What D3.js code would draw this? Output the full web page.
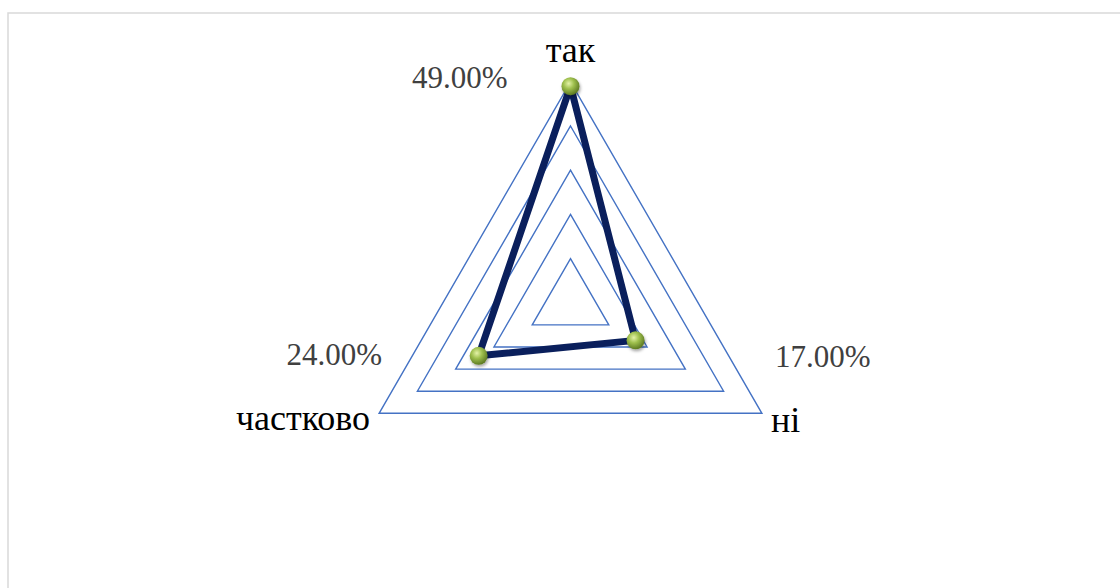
<!DOCTYPE html>
<html>
<head>
<meta charset="utf-8">
<title>radar chart</title>
<style>
  body { margin: 0; background: #fff; }
  svg { display: block; }
</style>
</head>
<body>
<svg width="1120" height="588"></svg>
<script src="https://d3js.org/d3.v7.min.js"></script>
<script>

    var categories = ["так", "ні", "частково"];
    var values = [0.49, 0.17, 0.24];
    var gridLevels = [0.1, 0.2, 0.3, 0.4, 0.5];

    var svg = d3.select("svg"),
        cx = 570.5,
        cy = 302.8,
        radius = 221;

    // chart frame
    svg.append("rect")
        .attr("x", 8).attr("y", 13)
        .attr("width", 1130).attr("height", 600)
        .attr("fill", "none")
        .attr("stroke", "#d9d9d9")
        .attr("stroke-width", 1.5);

    var r = d3.scaleLinear().domain([0, 0.5]).range([0, radius]);
    var angle = d3.scaleLinear().domain([0, categories.length]).range([0, 2 * Math.PI]);

    function pt(i, v) {
        var a = angle(i);
        return [cx + r(v) * Math.sin(a), cy - r(v) * Math.cos(a)];
    }

    var defs = svg.append("defs");
    var grad = defs.append("radialGradient")
        .attr("id", "ball")
        .attr("cx", "40%").attr("cy", "35%").attr("r", "65%");
    grad.append("stop").attr("offset", "0%").attr("stop-color", "#e4f2a8");
    grad.append("stop").attr("offset", "45%").attr("stop-color", "#9fc04e");
    grad.append("stop").attr("offset", "100%").attr("stop-color", "#5d7a22");

    var shadow = defs.append("filter").attr("id", "sh")
        .attr("x", "-50%").attr("y", "-50%").attr("width", "200%").attr("height", "200%");
    shadow.append("feDropShadow")
        .attr("dx", 1).attr("dy", 2).attr("stdDeviation", 1.5)
        .attr("flood-color", "#000").attr("flood-opacity", 0.35);

    var g = svg.append("g");

    // grid triangles
    g.selectAll(".grid")
        .data(gridLevels)
        .enter().append("polygon")
        .attr("class", "grid")
        .attr("points", function (lv) {
            return categories.map(function (c, i) { return pt(i, lv).join(","); }).join(" ");
        })
        .attr("fill", "none")
        .attr("stroke", "#4472c4")
        .attr("stroke-width", 1.4);

    // data line
    var line = d3.line().curve(d3.curveLinearClosed);
    g.append("path")
        .datum(values.map(function (v, i) { return pt(i, v); }))
        .attr("d", line)
        .attr("fill", "none")
        .attr("stroke", "#0a1f5c")
        .attr("stroke-width", 7)
        .attr("stroke-linejoin", "round");

    // markers
    g.selectAll(".mk")
        .data(values)
        .enter().append("circle")
        .attr("class", "mk")
        .attr("cx", function (v, i) { return pt(i, v)[0]; })
        .attr("cy", function (v, i) { return pt(i, v)[1]; })
        .attr("r", 9)
        .attr("fill", "url(#ball)")
        .attr("filter", "url(#sh)");

    var serif = "'Liberation Serif', 'DejaVu Serif', serif";

    // category labels
    var catPos = [
        { dx: 0, dy: -20, anchor: "middle" },
        { dx: 9, dy: 19, anchor: "start" },
        { dx: -9, dy: 17, anchor: "end" }
    ];
    g.selectAll(".cat")
        .data(categories)
        .enter().append("text")
        .attr("class", "cat")
        .attr("x", function (c, i) { return pt(i, 0.5)[0] + catPos[i].dx; })
        .attr("y", function (c, i) { return pt(i, 0.5)[1] + catPos[i].dy; })
        .attr("text-anchor", function (c, i) { return catPos[i].anchor; })
        .attr("font-family", serif)
        .attr("font-size", 36)
        .attr("fill", "#000")
        .text(function (c) { return c; });

    // value labels
    var valPos = [
        { dx: -63, dy: 6, anchor: "end" },
        { dx: 13, dy: -46, anchor: "start" },
        { dx: 3, dy: -48, anchor: "end" }
    ];
    var fmt = d3.format(".2%");
    g.selectAll(".val")
        .data(values)
        .enter().append("text")
        .attr("class", "val")
        .attr("x", function (v, i) { return pt(i, 0.5)[0] + valPos[i].dx; })
        .attr("y", function (v, i) { return pt(i, 0.5)[1] + valPos[i].dy; })
        .attr("text-anchor", function (v, i) { return valPos[i].anchor; })
        .attr("font-family", serif)
        .attr("font-size", 31)
        .attr("fill", "#404040")
        .text(function (v) { return fmt(v); });

</script>
</body>
</html>
